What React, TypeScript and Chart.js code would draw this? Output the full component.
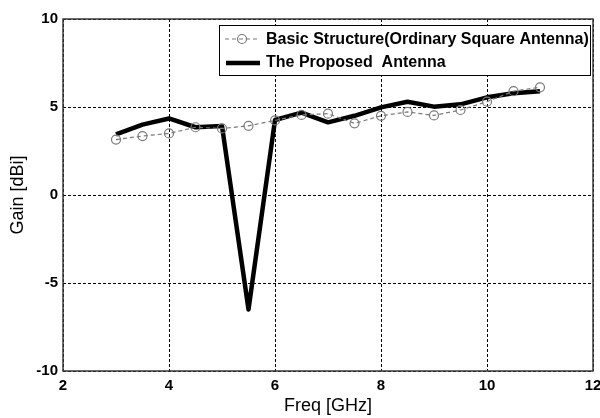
import React, { useEffect, useRef } from "react";
import { Chart, registerables } from "chart.js";

Chart.register(...registerables);

// Frequency samples (GHz)
const freqGHz = [3, 3.5, 4, 4.5, 5, 5.5, 6, 6.5, 7, 7.5, 8, 8.5, 9, 9.5, 10, 10.5, 11];

// Gain of the ordinary square antenna (dBi)
const basicGain = [3.15, 3.35, 3.5, 3.85, 3.78, 3.93, 4.24, 4.55, 4.62, 4.07, 4.5, 4.72, 4.52, 4.83, 5.3, 5.9, 6.12];

// Gain of the proposed antenna (dBi)
const proposedGain = [3.45, 4.0, 4.35, 3.85, 3.92, -6.5, 4.26, 4.68, 4.13, 4.5, 4.98, 5.3, 5.02, 5.15, 5.55, 5.78, 5.9];

const xTicks = [2, 4, 6, 8, 10, 12];
const yTicks = [-10, -5, 0, 5, 10];

const seriesNames = ["Basic Structure(Ordinary Square Antenna)", "The Proposed  Antenna"];

const FONT = "'Liberation Sans', Arial, Helvetica, sans-serif";
const GREY = "#7a7a7a";

const framePlugin = {
  id: "frame",
  beforeDatasetsDraw(chart: any) {
    const { ctx, chartArea } = chart;
    ctx.save();
    ctx.strokeStyle = "#3a3a3a";
    ctx.lineWidth = 1.5;
    ctx.setLineDash([]);
    ctx.strokeRect(chartArea.left, chartArea.top, chartArea.right - chartArea.left, chartArea.bottom - chartArea.top);
    ctx.restore();
  },
};

const boxLegendPlugin = {
  id: "boxLegend",
  afterDraw(chart: any) {
    const { ctx, chartArea } = chart;
    const x0 = chartArea.left + 156;
    const y0 = chartArea.top + 6;
    const w = chartArea.right - 3 - x0;
    const h = 50;
    ctx.save();
    ctx.fillStyle = "#ffffff";
    ctx.fillRect(x0, y0, w, h);
    ctx.strokeStyle = "#000000";
    ctx.lineWidth = 1;
    ctx.strokeRect(x0 + 0.5, y0 + 0.5, w, h);

    const r1 = y0 + 14;
    const r2 = y0 + 38;
    // row 1: dashed grey with open circle
    ctx.strokeStyle = GREY;
    ctx.lineWidth = 1.2;
    ctx.setLineDash([4, 3]);
    ctx.beginPath();
    ctx.moveTo(x0 + 6, r1);
    ctx.lineTo(x0 + 39, r1);
    ctx.stroke();
    ctx.setLineDash([]);
    ctx.beginPath();
    ctx.arc(x0 + 23, r1, 4.5, 0, Math.PI * 2);
    ctx.stroke();
    // row 2: thick black
    ctx.strokeStyle = "#000000";
    ctx.lineWidth = 4.5;
    ctx.beginPath();
    ctx.moveTo(x0 + 7, r2);
    ctx.lineTo(x0 + 41, r2);
    ctx.stroke();

    ctx.fillStyle = "#000000";
    ctx.font = `bold 16px ${FONT}`;
    ctx.textBaseline = "middle";
    ctx.textAlign = "left";
    ctx.fillText(seriesNames[0], x0 + 47, r1 + 1);
    ctx.fillText(seriesNames[1], x0 + 47, r2);
    ctx.restore();
  },
};

export default function App() {
  const canvasRef = useRef<HTMLCanvasElement | null>(null);

  useEffect(() => {
    if (!canvasRef.current) return;
    const chart = new Chart(canvasRef.current, {
      type: "line",
      data: {
        datasets: [
          {
            label: seriesNames[0],
            data: freqGHz.map((f, i) => ({ x: f, y: basicGain[i] })),
            borderColor: GREY,
            borderWidth: 1.2,
            borderDash: [4, 3],
            pointRadius: 4.5,
            pointBorderWidth: 1.2,
            pointBorderColor: GREY,
            pointBackgroundColor: "rgba(0,0,0,0)",
            tension: 0,
          },
          {
            label: seriesNames[1],
            data: freqGHz.map((f, i) => ({ x: f, y: proposedGain[i] })),
            borderColor: "#000000",
            borderWidth: 4.5,
            pointRadius: 0,
            tension: 0,
            borderJoinStyle: "round",
          },
        ],
      },
      options: {
        responsive: false,
        animation: false,
        devicePixelRatio: 1,
        layout: { padding: { top: 19, right: 7, left: 0, bottom: 0 } },
        plugins: {
          legend: { display: false },
          tooltip: { enabled: false },
        },
        scales: {
          x: {
            type: "linear",
            min: 2,
            max: 12,
            afterBuildTicks: (axis: any) => {
              axis.ticks = xTicks.map((v) => ({ value: v }));
            },
            afterFit: (axis: any) => {
              axis.height = 47;
              axis.paddingLeft = 0;
              axis.paddingRight = 0;
            },
            grid: { color: "#000000", lineWidth: 1, drawTicks: false },
            border: { display: false, dash: [3, 2] },
            ticks: {
              color: "#000000",
              padding: 6,
              font: { family: FONT, size: 15, weight: "bold" },
            },
            title: {
              display: true,
              text: "Freq [GHz]",
              color: "#000000",
              font: { family: FONT, size: 18 },
              padding: { top: 0, bottom: 1 },
            },
          },
          y: {
            type: "linear",
            min: -10,
            max: 10,
            afterBuildTicks: (axis: any) => {
              axis.ticks = yTicks.map((v) => ({ value: v }));
            },
            afterFit: (axis: any) => {
              axis.width = 63;
              axis.paddingTop = 0;
              axis.paddingBottom = 0;
            },
            grid: { color: "#000000", lineWidth: 1, drawTicks: false },
            border: { display: false, dash: [3, 2] },
            ticks: {
              color: "#000000",
              padding: 5,
              font: { family: FONT, size: 15, weight: "bold" },
            },
            title: {
              display: true,
              text: "Gain [dBi]",
              color: "#000000",
              font: { family: FONT, size: 18 },
              padding: { top: 7, bottom: 0 },
            },
          },
        },
      },
      plugins: [framePlugin, boxLegendPlugin],
    });
    return () => chart.destroy();
  }, []);

  return (
    <div style={{ position: "absolute", left: 0, top: 0, width: 600, height: 418, background: "#ffffff" }}>
      <canvas ref={canvasRef} width={600} height={418} />
    </div>
  );
}
